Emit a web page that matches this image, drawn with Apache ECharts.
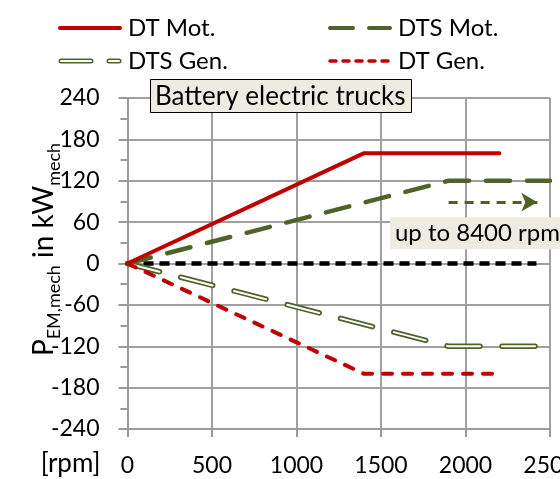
<!DOCTYPE html>
<html>
<head>
<meta charset="utf-8">
<script src="https://cdn.jsdelivr.net/npm/echarts@6/dist/echarts.min.js"></script>
<style>
  html, body { margin: 0; padding: 0; background: #ffffff; }
  #chart { width: 560px; height: 479px; }
</style>
</head>
<body>
<div id="chart"></div>
<script>
// Speed breakpoints (rpm) and mechanical power (kW) of the electric machines
const speedDT = [0, 1400, 2200];
const powerDTMot = [0, 160, 160];
const powerDTGen = [0, -160, -160];
const speedDTS = [0, 1900, 2500];
const powerDTSMot = [0, 120, 120];
const powerDTSGen = [0, -120, -120];
const speedZero = [0, 2420];
const powerZero = [0, 0];
// "up to 8400 rpm" hint arrow and its text box anchor
const arrowSpeed = [1900, 2425];
const arrowPower = 89;
const noteAnchor = [1553, 44];

const xTicks = [0, 500, 1000, 1500, 2000, 2500];
const yTicks = [-240, -180, -120, -60, 0, 60, 120, 180, 240];

const seriesNames = ['DT Mot.', 'DTS Mot.', 'DTS Gen.', 'DT Gen.'];

const RED = '#c00000';
const GREEN = '#4f6228';
const FONT = 'Lato';

const pairs = (xs, ys) => xs.map((x, i) => [x, ys[i]]);

// Legend samples as small SVG strokes (64 x 10)
function svgIcon(body) {
  return 'image://data:image/svg+xml;utf8,' + encodeURIComponent(
    '<svg xmlns="http://www.w3.org/2000/svg" width="64" height="10" viewBox="0 0 64 10" preserveAspectRatio="none">' +
    '<g fill="none" stroke-linecap="round">' + body + '</g></svg>');
}
const icons = [
  svgIcon('<path d="M2 5H62" stroke="' + RED + '" stroke-width="4"/>'),
  svgIcon('<path d="M2 5H25 M41 5H62" stroke="' + GREEN + '" stroke-width="4"/>'),
  svgIcon('<path d="M3 5H33 M51 5H61" stroke="' + GREEN + '" stroke-width="5"/>' +
          '<path d="M3 5H33 M51 5H61" stroke="#ffffff" stroke-width="2"/>'),
  svgIcon('<path d="M2 5H8 M15 5H21 M28 5H34 M41 5H47 M54 5H60" stroke="' + RED + '" stroke-width="3.5"/>')
];

const legendBase = {
  itemWidth: 64,
  itemHeight: 10,
  itemGap: 0,
  selectedMode: false,
  textStyle: { fontFamily: FONT, fontSize: 24, color: '#000', lineHeight: 28, padding: [0, 0, 0, 1] }
};
const legendPos = [[53, 9], [323, 9], [53, 42], [323, 42]];

const chart = echarts.init(document.getElementById('chart'), null, { renderer: 'canvas' });

chart.setOption({
  animation: false,
  backgroundColor: '#ffffff',
  textStyle: { fontFamily: FONT },
  title: {
    text: 'Battery electric trucks',
    left: 150,
    top: 79,
    padding: [3, 6, 2, 5],
    backgroundColor: '#eeece1',
    borderColor: '#000000',
    borderWidth: 1,
    textStyle: { fontFamily: FONT, fontSize: 26, fontWeight: 'normal', color: '#000', lineHeight: 29 }
  },
  legend: seriesNames.map((name, i) => Object.assign({}, legendBase, {
    data: [{ name: name, icon: icons[i] }],
    left: legendPos[i][0],
    top: legendPos[i][1]
  })),
  grid: { left: 127.5, right: 10, top: 98, bottom: 50, containLabel: false, outerBoundsMode: 'none' },
  xAxis: {
    type: 'value',
    min: xTicks[0],
    max: xTicks[xTicks.length - 1],
    interval: 500,
    name: '[rpm]',
    nameLocation: 'start',
    nameGap: 27,
    nameMoveOverlap: false,
    nameTextStyle: { fontFamily: FONT, fontSize: 26, color: '#000', verticalAlign: 'top', padding: [22, 0, 0, 0] },
    axisLine: { show: true, onZero: false, lineStyle: { color: '#9a9a9a', width: 2 } },
    axisTick: { show: true, length: 8, lineStyle: { color: '#9a9a9a', width: 2 } },
    axisLabel: { fontFamily: FONT, fontSize: 23, color: '#000', margin: 25, formatter: v => String(v) },
    splitLine: { show: true, lineStyle: { color: '#a0a0a0', width: 2 } }
  },
  yAxis: {
    type: 'value',
    min: yTicks[0],
    max: yTicks[yTicks.length - 1],
    interval: 60,
    name: '{m|P}{s|EM,mech}{m| in kW}{s|mech}',
    nameLocation: 'middle',
    nameGap: 70,
    nameMoveOverlap: false,
    nameTextStyle: {
      color: '#000',
      padding: [0, 0, 0, 28],
      rich: {
        m: { fontFamily: FONT, fontSize: 28, lineHeight: 28, verticalAlign: 'top', color: '#000' },
        s: { fontFamily: FONT, fontSize: 18, lineHeight: 18, verticalAlign: 'top', padding: [16, 0, 0, 0], color: '#000' }
      }
    },
    axisLine: { show: true, onZero: false, lineStyle: { color: '#9a9a9a', width: 2 } },
    axisTick: { show: true, length: 9, lineStyle: { color: '#9a9a9a', width: 2 } },
    minorTick: { show: true, splitNumber: 2, length: 7, lineStyle: { color: '#9a9a9a', width: 2 } },
    axisLabel: { fontFamily: FONT, fontSize: 23, color: '#000', margin: 28, formatter: v => String(v) },
    splitLine: { show: true, lineStyle: { color: '#a0a0a0', width: 2 } }
  },
  series: [
    {
      name: seriesNames[0],
      type: 'line',
      data: pairs(speedDT, powerDTMot),
      symbol: 'none',
      z: 5,
      lineStyle: { color: RED, width: 4, cap: 'round', join: 'round' },
      itemStyle: { color: RED }
    },
    {
      name: seriesNames[1],
      type: 'line',
      data: pairs(speedDTS, powerDTSMot),
      symbol: 'none',
      z: 4,
      lineStyle: { color: GREEN, width: 4.5, type: [24, 17], cap: 'round' },
      itemStyle: { color: GREEN }
    },
    {
      name: seriesNames[2],
      type: 'line',
      data: pairs(speedDTS, powerDTSGen),
      symbol: 'none',
      z: 4,
      lineStyle: { color: GREEN, width: 5.5, type: [33, 22], cap: 'round' },
      itemStyle: { color: GREEN }
    },
    {
      name: seriesNames[2] + ' inner',
      type: 'line',
      data: pairs(speedDTS, powerDTSGen),
      symbol: 'none',
      z: 4,
      silent: true,
      lineStyle: { color: '#ffffff', width: 2, type: [33, 22], cap: 'round' }
    },
    {
      name: seriesNames[3],
      type: 'line',
      data: pairs(speedDT, powerDTGen),
      symbol: 'none',
      z: 6,
      lineStyle: { color: RED, width: 4, type: [9, 11], cap: 'round' },
      itemStyle: { color: RED }
    },
    {
      name: 'zero',
      type: 'line',
      data: pairs(speedZero, powerZero),
      symbol: 'none',
      z: 3,
      silent: true,
      lineStyle: { color: '#000000', width: 4.5, type: [10, 6] }
    },
    {
      name: 'note',
      type: 'line',
      data: [],
      symbol: 'none',
      z: 7,
      silent: true,
      markLine: {
        silent: true,
        symbol: ['none', 'arrow'],
        symbolSize: [14, 16],
        label: { show: false },
        lineStyle: { color: GREEN, width: 3, type: [9, 7] },
        data: [[{ coord: [arrowSpeed[0], arrowPower] }, { coord: [arrowSpeed[1], arrowPower] }]]
      },
      markPoint: {
        silent: true,
        symbol: 'rect',
        symbolSize: 0.01,
        label: {
          show: true,
          position: 'right',
          distance: 0,
          formatter: 'up to 8400 rpm',
          fontFamily: FONT,
          fontSize: 24,
          color: '#000',
          backgroundColor: '#eeece1',
          padding: [3, 10, 3, 5],
          lineHeight: 26
        },
        data: [{ coord: noteAnchor }]
      }
    }
  ]
});
</script>
</body>
</html>
